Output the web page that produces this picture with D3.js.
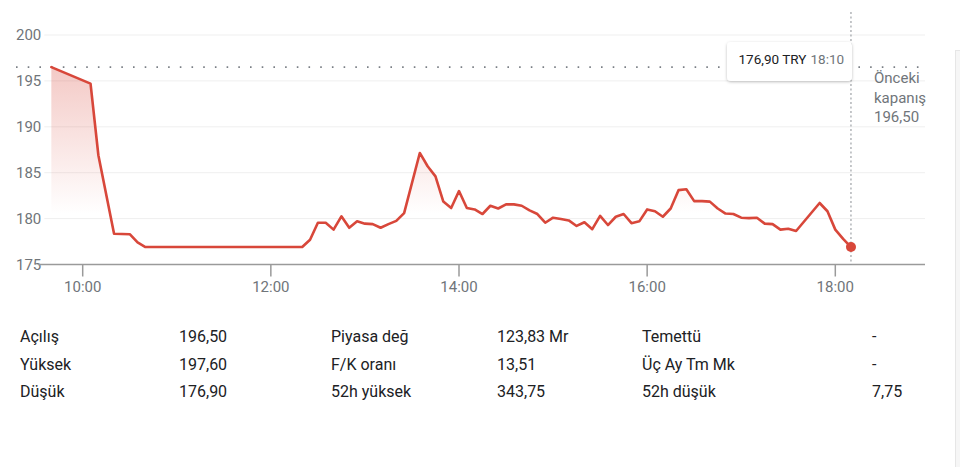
<!DOCTYPE html>
<html><head><meta charset="utf-8">
<script src="https://cdn.jsdelivr.net/npm/d3@7"></script>
<style>
html,body{margin:0;padding:0;background:#fff;}
svg{display:block;font-family:Roboto,"Noto Sans",Arial,sans-serif;}
</style></head>
<body>
<svg id="chart" width="960" height="467"></svg>
<script>
// ---- data ----
const times = ["09:40","10:05","10:10","10:20","10:30","10:35","10:40","12:20","12:25","12:30","12:35","12:40","12:45","12:50","12:55","13:00","13:05","13:10","13:15","13:20","13:25","13:35","13:40","13:45","13:50","13:55","14:00","14:05","14:10","14:15","14:20","14:25","14:30","14:35","14:40","14:45","14:50","14:55","15:00","15:05","15:10","15:15","15:20","15:25","15:30","15:35","15:40","15:45","15:50","15:55","16:00","16:05","16:10","16:15","16:20","16:25","16:30","16:35","16:40","16:45","16:50","16:55","17:00","17:05","17:10","17:15","17:20","17:25","17:30","17:35","17:50","17:55","18:00","18:05","18:10"];
const prices = [196.5,194.7,186.9,178.35,178.3,177.4,176.9,176.9,177.7,179.55,179.55,178.8,180.25,179.0,179.7,179.45,179.4,179.0,179.4,179.75,180.6,187.15,185.7,184.6,181.85,181.15,183.0,181.15,181.0,180.5,181.4,181.1,181.55,181.55,181.4,180.9,180.5,179.55,180.1,179.95,179.8,179.2,179.6,178.85,180.3,179.3,180.2,180.5,179.5,179.7,181.0,180.8,180.2,181.1,183.1,183.2,181.9,181.9,181.85,181.1,180.55,180.5,180.1,180.05,180.1,179.45,179.4,178.8,178.9,178.65,181.7,180.8,178.8,177.8,176.9];
const yTicks = [175,180,185,190,195,200];
const xTickLabels = ["10:00","12:00","14:00","16:00","18:00"];
const previousClose = 196.5;
const previousCloseLabel = ["Önceki","kapanış","196,50"];
const tooltipPrice = "176,90 TRY";
const tooltipTime = "18:10";
const statLabels1 = ["Açılış","Yüksek","Düşük"];
const statValues1 = ["196,50","197,60","176,90"];
const statLabels2 = ["Piyasa değ","F/K oranı","52h yüksek"];
const statValues2 = ["123,83 Mr","13,51","343,75"];
const statLabels3 = ["Temettü","Üç Ay Tm Mk","52h düşük"];
const statValues3 = ["-","-","7,75"];

// ---- setup ----
const toMin = s => { const [h,m] = s.split(":").map(Number); return h*60+m; };
const data = times.map((t,i)=>({t:toMin(t), v:prices[i]}));
const lineColor = "#d8473a";
const gray = "#70757a";
const svg = d3.select("#chart");

const x = d3.scaleLinear().domain([600,1080]).range([82.7,835.3]);
const y = d3.scaleLinear().domain([175,200]).range([264.5,35]);
const plotLeft = 38, plotRight = 925;

// gradient
const defs = svg.append("defs");
const grad = defs.append("linearGradient").attr("id","areaGrad")
  .attr("gradientUnits","userSpaceOnUse").attr("x1",0).attr("x2",0).attr("y1",y(197)).attr("y2",y(180.5));
grad.append("stop").attr("offset",0).attr("stop-color",lineColor).attr("stop-opacity",0.3);
grad.append("stop").attr("offset",1).attr("stop-color",lineColor).attr("stop-opacity",0);
const shadow = defs.append("filter").attr("id","shadow").attr("x","-20%").attr("y","-30%").attr("width","140%").attr("height","170%");
shadow.append("feDropShadow").attr("dx",0).attr("dy",1).attr("stdDeviation",1.6).attr("flood-color","#000").attr("flood-opacity",0.25);

// y labels + gridlines
yTicks.forEach(v=>{
  const txt = svg.append("text").attr("x",16).attr("y",y(v)).attr("dy","0.36em")
    .attr("font-size",15).attr("fill",gray).text(v);
  const w = txt.node().getComputedTextLength();
  if (v !== 175) {
    svg.append("line").attr("x1",16+w+3).attr("x2",plotRight).attr("y1",y(v)).attr("y2",y(v))
      .attr("stroke","#efefef").attr("stroke-width",1);
  }
});

// area
const area = d3.area().x(d=>x(d.t)).y0(y(175)).y1(d=>y(d.v));
svg.append("path").datum(data).attr("d",area).attr("fill","url(#areaGrad)");

// axis line and ticks
svg.append("line").attr("x1",plotLeft).attr("x2",plotRight).attr("y1",y(175)).attr("y2",y(175))
  .attr("stroke","#9a9a9a").attr("stroke-width",1.5);
xTickLabels.forEach(s=>{
  const xx = x(toMin(s));
  svg.append("line").attr("x1",xx).attr("x2",xx).attr("y1",y(175)).attr("y2",y(175)+12)
    .attr("stroke","#9a9a9a").attr("stroke-width",1.5);
  svg.append("text").attr("x",xx).attr("y",292).attr("text-anchor","middle")
    .attr("font-size",15).attr("fill",gray).text(s);
});

// previous close dotted line
svg.append("line").attr("x1",16).attr("x2",plotRight).attr("y1",y(previousClose)).attr("y2",y(previousClose))
  .attr("stroke","#7a7f85").attr("stroke-width",1.6).attr("stroke-dasharray","1.6,10.1");

// vertical hover line
const lastX = x(data[data.length-1].t);
svg.append("line").attr("x1",lastX).attr("x2",lastX).attr("y1",12).attr("y2",y(175))
  .attr("stroke","#8a8f94").attr("stroke-width",1).attr("stroke-dasharray","2,2.5");

// price line
const line = d3.line().x(d=>x(d.t)).y(d=>y(d.v));
svg.append("path").datum(data).attr("d",line).attr("fill","none")
  .attr("stroke",lineColor).attr("stroke-width",2.6).attr("stroke-linejoin","round").attr("stroke-linecap","round");

// last point
const last = data[data.length-1];
svg.append("circle").attr("cx",x(last.t)).attr("cy",y(last.v)).attr("r",5).attr("fill",lineColor);

// tooltip
svg.append("rect").attr("x",727).attr("y",42).attr("width",125).attr("height",39).attr("rx",4)
  .attr("fill","#fff").attr("filter","url(#shadow)");
svg.append("text").attr("x",738.5).attr("y",62.5).attr("dy","0.1em").attr("font-size",13.5).attr("fill","#202124")
  .attr("font-weight",400).text(tooltipPrice);
svg.append("text").attr("x",810.5).attr("y",62.5).attr("dy","0.1em").attr("font-size",13.5).attr("fill",gray).text(tooltipTime);

// previous close label
previousCloseLabel.forEach((s,i)=>{
  svg.append("text").attr("x",874).attr("y",83+i*19.5).attr("font-size",15).attr("fill",gray).text(s);
});

// right edge panel
svg.append("rect").attr("x",955.5).attr("y",50.5).attr("width",10).attr("height",420)
  .attr("fill","#f6f6f6").attr("stroke","#e6e6e6").attr("stroke-width",1);

// stats table
const rowY = [342,369.5,397];
const cols = [[20,statLabels1],[179,statValues1],[331,statLabels2],[497,statValues2],[642,statLabels3],[872,statValues3]];
cols.forEach(([cx,arr])=>{
  arr.forEach((s,i)=>{
    svg.append("text").attr("x",cx).attr("y",rowY[i]).attr("font-size",16).attr("fill","#202124").text(s);
  });
});
</script>
</body></html>
